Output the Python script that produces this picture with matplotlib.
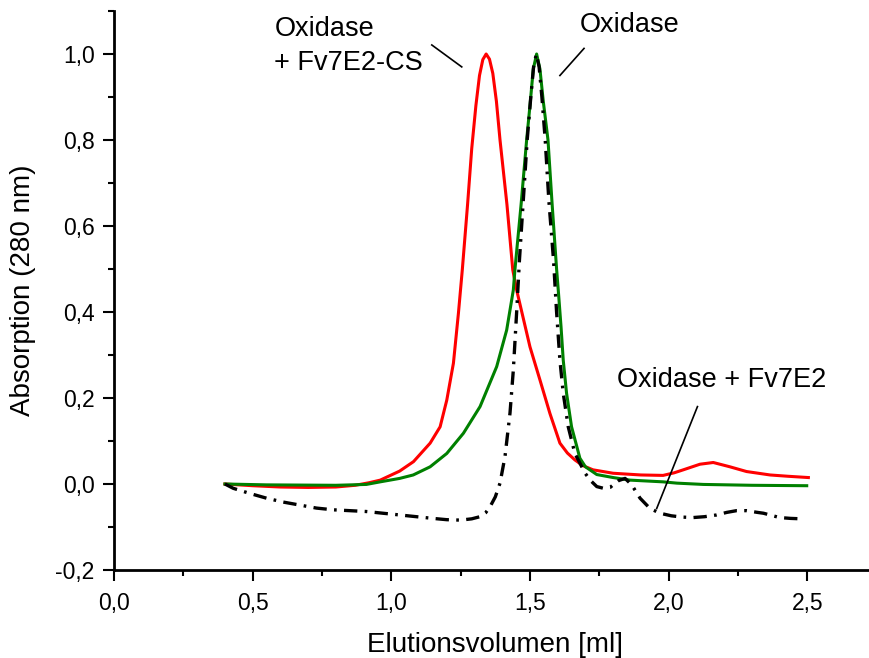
import matplotlib
matplotlib.use('Agg')
import matplotlib.pyplot as plt
from matplotlib.ticker import MultipleLocator, FuncFormatter

plt.rcParams['font.family'] = ['Liberation Sans', 'DejaVu Sans']

# Oxidase + Fv7E2-CS (red)
red_x = [0.40, 0.50, 0.60, 0.70, 0.80, 0.87, 0.92, 0.96, 1.03, 1.08, 1.14, 1.176, 1.20, 1.224,
         1.242, 1.256, 1.275, 1.29, 1.305, 1.318, 1.330, 1.342, 1.354, 1.366, 1.379, 1.392,
         1.417, 1.438, 1.452, 1.50, 1.536, 1.572, 1.608, 1.635, 1.662, 1.69, 1.727, 1.80, 1.90,
         1.98, 2.02, 2.053, 2.113, 2.161, 2.221, 2.281, 2.366, 2.43, 2.504]
red_y = [0.000, -0.004, -0.007, -0.008, -0.007, -0.003, 0.003, 0.009, 0.030, 0.052, 0.095, 0.133,
         0.195, 0.281, 0.397, 0.498, 0.65, 0.78, 0.88, 0.95, 0.987, 1.000, 0.988, 0.955, 0.89,
         0.80, 0.65, 0.498, 0.451, 0.319, 0.242, 0.164, 0.095, 0.072, 0.056, 0.043, 0.033, 0.025,
         0.021, 0.020, 0.026, 0.033, 0.046, 0.050, 0.040, 0.029, 0.021, 0.018, 0.015]

# Oxidase (green)
green_x = [0.40, 0.55, 0.80, 0.91, 0.96, 1.03, 1.079, 1.14, 1.20, 1.26, 1.32, 1.38, 1.416, 1.44,
           1.446, 1.468, 1.488, 1.500, 1.512, 1.524, 1.536, 1.548, 1.565, 1.58, 1.596, 1.603,
           1.612, 1.62, 1.632, 1.65, 1.669, 1.68, 1.70, 1.741, 1.80, 1.861, 1.98, 2.03, 2.125,
           2.30, 2.498]
green_y = [0.000, -0.002, -0.003, -0.001, 0.005, 0.013, 0.021, 0.040, 0.071, 0.118, 0.180, 0.273,
           0.358, 0.451, 0.50, 0.65, 0.80, 0.88, 0.965, 1.000, 0.965, 0.89, 0.80, 0.65, 0.50,
           0.443, 0.366, 0.288, 0.211, 0.133, 0.087, 0.060, 0.040, 0.022, 0.015, 0.009, 0.005,
           0.002, -0.001, -0.003, -0.004]

# Oxidase + Fv7E2 (black dash-dot)
black_x = [0.40, 0.43, 0.49, 0.55, 0.61, 0.67, 0.73, 0.79, 0.85, 0.91, 0.97, 1.03, 1.09, 1.15,
           1.20, 1.25, 1.29, 1.32, 1.34, 1.356, 1.375, 1.392, 1.41, 1.428, 1.44, 1.452, 1.462,
           1.475, 1.49, 1.503, 1.513, 1.523, 1.533, 1.543, 1.555, 1.568, 1.585, 1.596, 1.608,
           1.62, 1.638, 1.662, 1.699, 1.717, 1.741, 1.765, 1.789, 1.80, 1.82, 1.843, 1.867,
           1.897, 1.933, 1.969, 2.01, 2.05, 2.089, 2.13, 2.173, 2.21, 2.245, 2.281, 2.32, 2.342,
           2.40, 2.44, 2.48]
black_y = [0.000, -0.010, -0.022, -0.033, -0.042, -0.049, -0.056, -0.060, -0.062, -0.064, -0.068,
           -0.072, -0.076, -0.080, -0.083, -0.084, -0.081, -0.076, -0.067, -0.053, -0.030, 0.002,
           0.064, 0.165, 0.265, 0.40, 0.52, 0.65, 0.80, 0.90, 0.97, 1.000, 0.97, 0.90, 0.80, 0.66,
           0.52, 0.40, 0.288, 0.211, 0.133, 0.071, 0.025, 0.009, -0.006, -0.010, -0.008, -0.002,
           0.008, 0.013, -0.002, -0.033, -0.057, -0.068, -0.074, -0.077, -0.078, -0.076, -0.072,
           -0.066, -0.062, -0.062, -0.066, -0.068, -0.078, -0.080, -0.081]

fig = plt.figure(figsize=(8.7, 6.58), dpi=100)
ax = fig.add_axes([114 / 870, 88 / 658, 762.6 / 870, 559 / 658])

ax.plot(red_x, red_y, color='#ff0000', lw=2.2)
ax.plot(green_x, green_y, color='#008000', lw=2.2)
ax.plot(black_x, black_y, color='black', lw=2.4, linestyle=(0, (4, 2.2, 0.8, 2.2)))

# labels with pointer lines
ax.text(0.578, 1.042, 'Oxidase', fontsize=19.5, ha='left', va='baseline')
ax.text(0.578, 0.963, '+ Fv7E2-CS', fontsize=19.5, ha='left', va='baseline')
ax.plot([1.146, 1.254], [1.021, 0.970], color='black', lw=1.2)
ax.text(1.861, 1.052, 'Oxidase', fontsize=19.5, ha='center', va='baseline')
ax.plot([1.695, 1.608], [1.013, 0.950], color='black', lw=1.2)
ax.text(2.191, 0.226, 'Oxidase + Fv7E2', fontsize=19.5, ha='center', va='baseline')
ax.plot([2.104, 1.957], [0.180, -0.057], color='black', lw=1.2)

ax.set_xlim(0, 2.75)
ax.set_ylim(-0.2, 1.1)
ax.xaxis.set_major_locator(MultipleLocator(0.5))
ax.xaxis.set_minor_locator(MultipleLocator(0.25))
ax.yaxis.set_major_locator(MultipleLocator(0.2))
ax.yaxis.set_minor_locator(MultipleLocator(0.1))
comma = FuncFormatter(lambda v, p: f'{v:.1f}'.replace('.', ','))
ax.xaxis.set_major_formatter(comma)
ax.yaxis.set_major_formatter(comma)

for s in ['top', 'right']:
    ax.spines[s].set_visible(False)
for s in ['left', 'bottom']:
    ax.spines[s].set_linewidth(2.0)
ax.tick_params(which='major', length=8, width=1.5, labelsize=16.5)
ax.tick_params(which='minor', length=4.5, width=1.5)
ax.tick_params(axis='x', which='major', pad=8)
ax.tick_params(axis='y', which='major', pad=6)

ax.set_xlabel('Elutionsvolumen [ml]', fontsize=20, labelpad=12)
ax.set_ylabel('Absorption (280 nm)', fontsize=20, labelpad=14)

plt.savefig('out.png', dpi=100)
